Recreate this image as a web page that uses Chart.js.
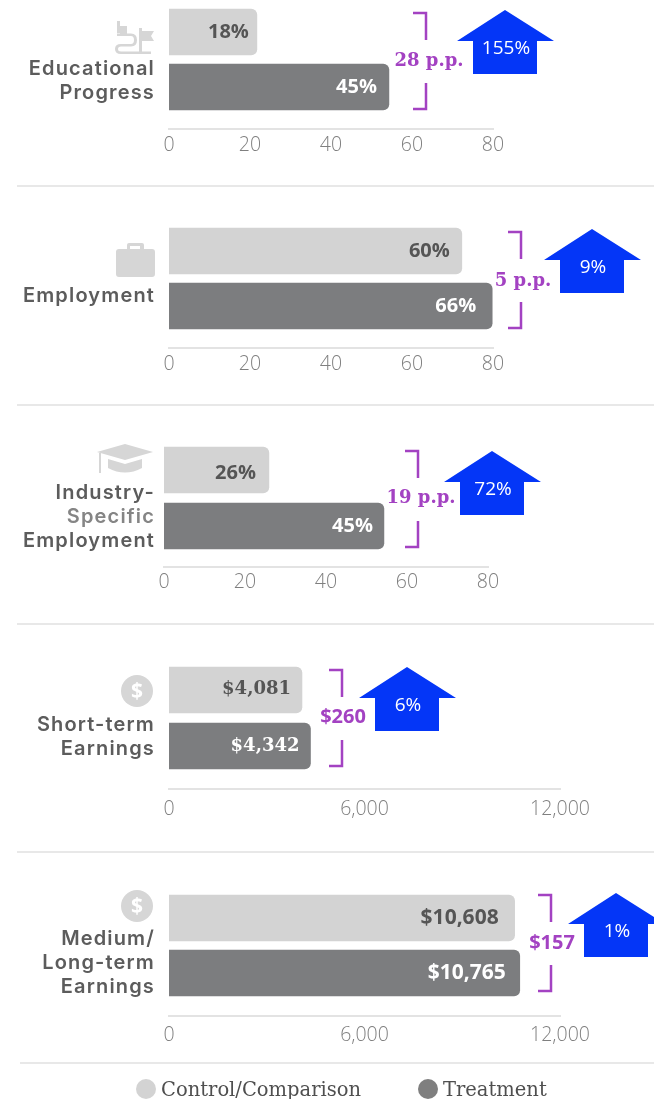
<!DOCTYPE html>
<html>
<head>
<meta charset="utf-8">
<script src="https://cdn.jsdelivr.net/npm/chart.js@4"></script>
<style>
  html, body { margin: 0; background: #fff; }
  body { position: relative; width: 654px; height: 1099px; overflow: hidden; }
  canvas { position: absolute; left: 0; }
  .name { position: absolute; right: 499px; text-align: right; white-space: pre;
          font: 600 20px/24px Inter, sans-serif; letter-spacing: 1.15px; color: #5c5c5c; }
  .rule { position: absolute; height: 2px; right: 0; background: #e8e8e8; }
  .legend { position: absolute; top: 1077px; font: 19.5px/26px "DejaVu Serif", serif; color: #4f4f4f; white-space: nowrap; }
  .dot { position: absolute; width: 20px; height: 20px; border-radius: 50%; top: 1079px; }
  svg { position: absolute; overflow: visible; }
</style>
</head>
<body>
<script>
const panelNames = ['Educational\nProgress', 'Employment', 'Industry-\nSpecific\nEmployment', 'Short-term\nEarnings', 'Medium/\nLong-term\nEarnings'];

// bar lengths as read against each panel's own axis
const controlValues = [21.7, 72.3, 25.9, 4081, 10608];
const treatmentValues = [54.3, 79.8, 54.3, 4342, 10765];

const controlLabels = ['18%', '60%', '26%', '$4,081', '$10,608'];
const treatmentLabels = ['45%', '66%', '45%', '$4,342', '$10,765'];
const gapLabels = ['28 p.p.', '5 p.p.', '19 p.p.', '$260', '$157'];
const changeLabels = ['155%', '9%', '72%', '6%', '1%'];

const axisMax = [80, 80, 80, 12000, 12000];
const axisStep = [20, 20, 20, 6000, 6000];

// page geometry of each panel, not data
const layout = [
  { top: 0,   c0: 32,  c1: 87,  axis: 129,  x0: 169, x1: 493, tickPad: 5, nameY: 56,  inset: [8, 12],  labelDy: 0, brX: 426, brY: 13,  gapX: 429, gapY: 61,  arX: 505, arY: 10,  rule: 185,  ruleX: 17 },
  { top: 200, c0: 251, c1: 306, axis: 348,  x0: 169, x1: 493, tickPad: 5, nameY: 283, inset: [12, 16], labelDy: 0, brX: 521, brY: 232, gapX: 523, gapY: 281, arX: 592, arY: 229, rule: 404,  ruleX: 17 },
  { top: 420, c0: 470, c1: 526, axis: 567,  x0: 164, x1: 488, tickPad: 4, nameY: 480, inset: [13, 11], labelDy: 3, brX: 418, brY: 451, gapX: 421, gapY: 498, arX: 492, arY: 451, rule: 623,  ruleX: 17 },
  { top: 640, c0: 690, c1: 746, axis: 789,  x0: 169, x1: 560, tickPad: 9, nameY: 712, inset: [11, 11], labelDy: -1, brX: 342, brY: 670, gapX: 343, gapY: 717, arX: 407, arY: 667, rule: 851,  ruleX: 17 },
  { top: 870, c0: 918, c1: 973, axis: 1016, x0: 169, x1: 560, tickPad: 8, nameY: 926, inset: [16, 14], labelDy: 0, brX: 551, brY: 895, gapX: 552, gapY: 943, arX: 616, arY: 893, rule: 1062, ruleX: 20 }
];

const CONTROL = '#d3d3d3', TREATMENT = '#7c7d7f', PURPLE = '#a342c2', BLUE = '#0436f7';
const labelFonts = ['bold 20px "Open Sans"', 'bold 20px "Open Sans"', 'bold 20px "Open Sans"', 'bold 18px "DejaVu Serif"', 'bold 21px "Open Sans"'];
const gapFonts = ['bold 18px "DejaVu Serif"', 'bold 18px "DejaVu Serif"', 'bold 18px "DejaVu Serif"', 'bold 20px "Open Sans"', 'bold 20px "Open Sans"'];

const annotate = {
  id: 'annotate',
  afterDatasetsDraw(chart, args, opts) {
    const i = opts.index, p = layout[i], c = chart.ctx;
    const bars = chart.getDatasetMeta(0).data;
    c.save();
    c.textBaseline = 'middle';

    // value labels sit inside the bar ends
    c.textAlign = 'right';
    c.font = labelFonts[i];
    c.fillStyle = '#555';
    c.fillText(controlLabels[i], bars[0].x - p.inset[0], bars[0].y + p.labelDy);
    c.fillStyle = '#fff';
    c.fillText(treatmentLabels[i], bars[1].x - p.inset[1], bars[1].y);

    // bracket, top half then bottom half
    const t = p.brY - p.top;
    c.strokeStyle = PURPLE;
    c.lineWidth = 2.5;
    c.beginPath();
    c.moveTo(p.brX - 13, t); c.lineTo(p.brX, t); c.lineTo(p.brX, t + 27);
    c.moveTo(p.brX, t + 70); c.lineTo(p.brX, t + 96); c.lineTo(p.brX - 13, t + 96);
    c.stroke();

    c.textAlign = 'center';
    c.fillStyle = PURPLE;
    c.font = gapFonts[i];
    c.fillText(gapLabels[i], p.gapX, p.gapY - p.top);

    // up arrow with percent change
    const a = p.arY - p.top;
    c.fillStyle = BLUE;
    c.beginPath();
    c.moveTo(p.arX, a);
    c.lineTo(p.arX + 49, a + 31); c.lineTo(p.arX + 32, a + 31); c.lineTo(p.arX + 32, a + 64);
    c.lineTo(p.arX - 32, a + 64); c.lineTo(p.arX - 32, a + 31); c.lineTo(p.arX - 48, a + 31);
    c.closePath();
    c.fill();
    c.fillStyle = '#fff';
    c.font = '19px "Open Sans"';
    c.fillText(changeLabels[i], p.arX + 1, a + 39);
    c.restore();
  }
};

panelNames.forEach((name, i) => {
  const p = layout[i];
  const canvas = document.createElement('canvas');
  canvas.style.top = p.top + 'px';
  canvas.width = 654;
  canvas.height = p.axis - p.top + 34;
  canvas.style.width = '654px';
  canvas.style.height = canvas.height + 'px';
  document.body.appendChild(canvas);

  const gap = p.c1 - p.c0;
  new Chart(canvas.getContext('2d'), {
    type: 'bar',
    data: {
      datasets: [{
        label: name.replace(/\n/g, ' '),
        data: [{ x: controlValues[i], y: 0 }, { x: treatmentValues[i], y: 1 }],
        backgroundColor: [CONTROL, TREATMENT]
      }]
    },
    options: {
      indexAxis: 'y',
      responsive: false,
      animation: false,
      barThickness: 46,
      borderRadius: 6,
      layout: { padding: { left: p.x0, right: 654 - p.x1, top: 0, bottom: 0 } },
      plugins: { legend: { display: false }, tooltip: { enabled: false }, annotate: { index: i } },
      scales: {
        y: {
          type: 'linear',
          display: false,
          reverse: true,
          offset: false,
          min: -(p.c0 - p.top) / gap,
          max: (p.axis - p.c0) / gap
        },
        x: {
          min: 0,
          max: axisMax[i],
          afterFit: s => { s.height = 34; },
          grid: { display: false, drawTicks: false },
          border: { color: '#e3e3e3', width: 2 },
          ticks: {
            stepSize: axisStep[i],
            autoSkip: false,
            maxRotation: 0,
            padding: p.tickPad,
            color: '#7f7f7f',
            font: { family: '"Open Sans"', size: 19.5, weight: '300' }
          }
        }
      }
    },
    plugins: [annotate]
  });

  const label = document.createElement('div');
  label.className = 'name';
  label.style.top = p.nameY + 'px';
  name.split('\n').forEach(line => {
    const row = document.createElement('div');
    row.textContent = line;
    if (line === 'Specific') row.style.color = '#858585';
    label.appendChild(row);
  });
  document.body.appendChild(label);

  const rule = document.createElement('div');
  rule.className = 'rule';
  rule.style.top = p.rule + 'px';
  rule.style.left = p.ruleX + 'px';
  document.body.appendChild(rule);
});
</script>

<!-- panel icons -->
<svg style="left:0;top:0" width="654" height="1099" fill="#d6d6d6">
  <!-- flags and road -->
  <path d="M117 21h3v5h7v9h-7v-2h-3zM139 28h3v3h12l-3 5 3 5h-12v13h-3z"/>
  <path d="M117 36h14q3 0 3 4t-3 4h-10q-6 0-6 5t6 5h30v-2.500h-30q-3 0-3-2.500t3-2.500h10q6 0 6-6.500t-6-6.500h-14z"/>
  <!-- briefcase -->
  <path d="M128 243h14q2 0 2 2v4h8q3 0 3 3v22q0 3-3 3h-33q-3 0-3-3v-22q0-3 3-3h8v-4q0-2 2-2zm2 3v3h10v-3z" fill-rule="evenodd"/>
  <!-- mortarboard -->
  <path d="M97 452l28-8 28 8-28 8zM108 459l17 5 17-5v9q-17 9-34 0zM100 453h1v20h-2v-20z"/>
  <!-- dollar coins -->
  <circle cx="137" cy="691" r="16"/>
  <circle cx="137" cy="906" r="16"/>
  <g fill="#fff" font-family="Open Sans" font-weight="700" font-size="21" text-anchor="middle">
    <text x="137" y="698">$</text>
    <text x="137" y="913">$</text>
  </g>
</svg>

<div class="dot" style="left:136px;background:#d3d3d3"></div>
<div class="legend" style="left:161px">Control/Comparison</div>
<div class="dot" style="left:418px;background:#7f7f7f"></div>
<div class="legend" style="left:443px">Treatment</div>
</body>
</html>
